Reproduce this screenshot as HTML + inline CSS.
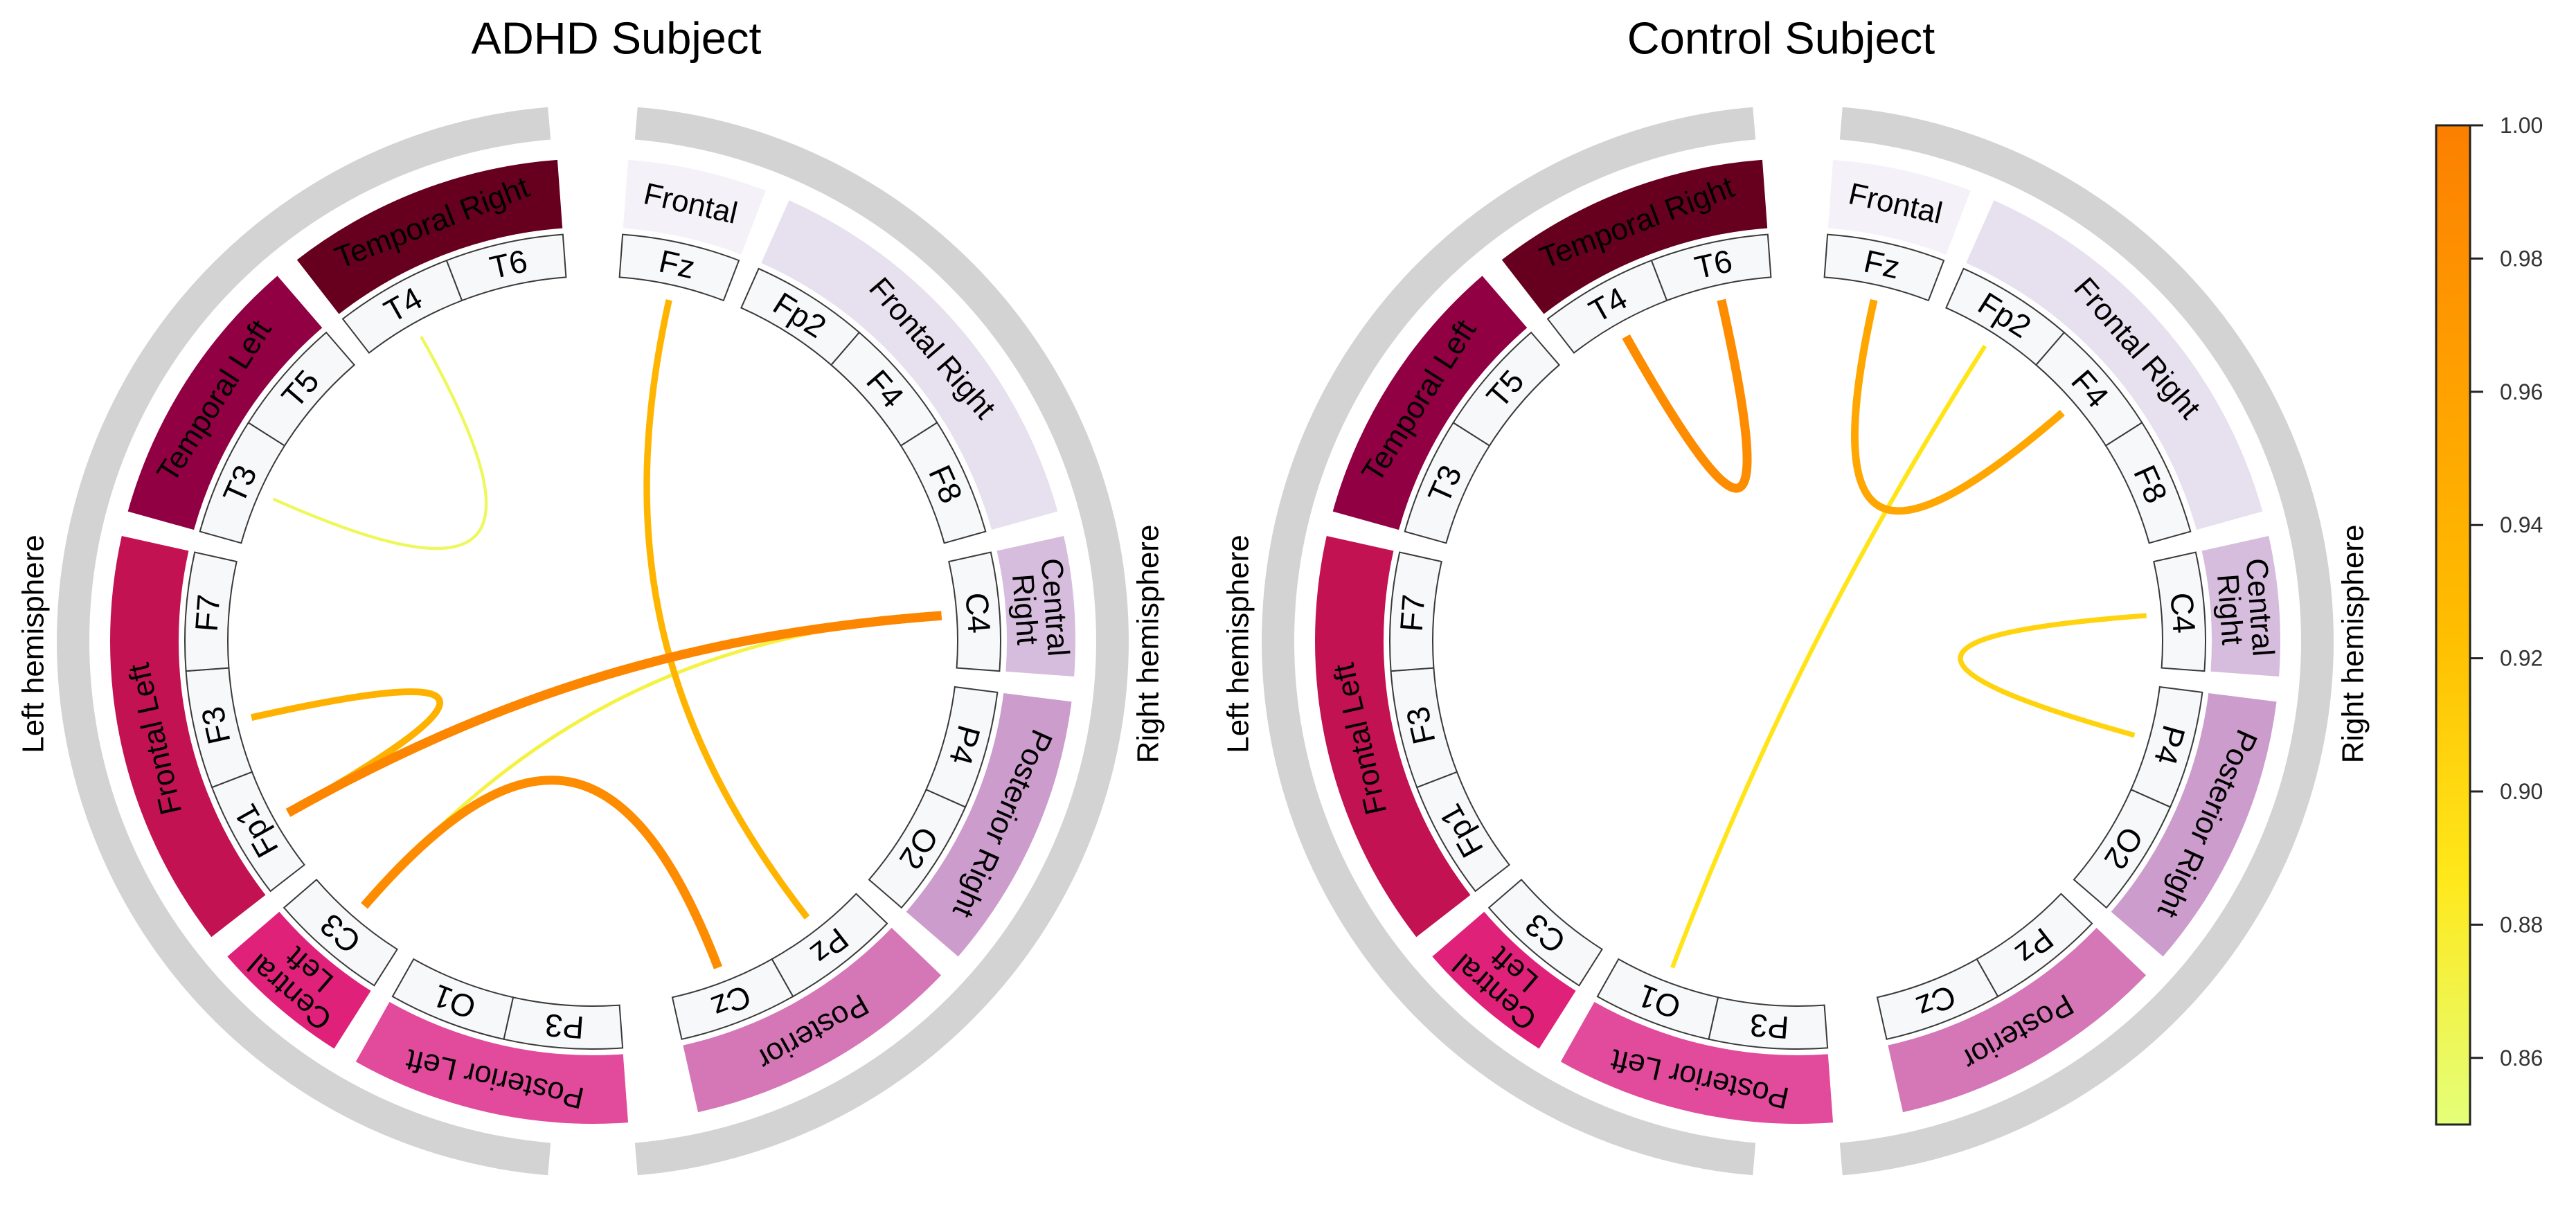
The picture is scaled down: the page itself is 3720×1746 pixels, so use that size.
<!DOCTYPE html>
<html><head><meta charset="utf-8"><title>ADHD vs Control connectivity</title>
<style>
html,body{margin:0;padding:0;background:#fff;}
svg{display:block;font-family:"Liberation Sans","DejaVu Sans",sans-serif;}
</style></head>
<body>
<svg id="chart" width="3720" height="1746" viewBox="0 0 3720 1746" xmlns="http://www.w3.org/2000/svg">
<defs>
<linearGradient id="wistia" x1="0" y1="1" x2="0" y2="0">
<stop offset="0" stop-color="#e4ff7a"/><stop offset="0.25" stop-color="#ffe81a"/><stop offset="0.5" stop-color="#ffbd00"/><stop offset="0.75" stop-color="#ffa000"/><stop offset="1" stop-color="#fc7f00"/>
</linearGradient>
</defs>
<text x="890" y="55" font-size="65" text-anchor="middle" dominant-baseline="central" fill="#000">ADHD Subject</text>
<text x="2572" y="55" font-size="65" text-anchor="middle" dominant-baseline="central" fill="#000">Control Subject</text>
<g id="panels"></g>
<g id="colorbar"></g>
</svg>
<script>
// ---- data ----
const nodeNames = ["Fz","Fp2","F4","F8","C4","P4","O2","Pz","Cz","P3","O1","C3","Fp1","F3","F7","T3","T5","T4","T6"];
const nodeGroup = [0,1,1,1,2,3,3,4,4,5,5,6,7,7,7,8,8,9,9];
const groupNames = ["Frontal","Frontal Right","Central Right","Posterior Right","Posterior","Posterior Left","Central Left","Frontal Left","Temporal Left","Temporal Right"];
const groupColors = ["#f5f1f8","#e7e1ef","#d7bddd","#cc9ccc","#d576b7","#e24a9c","#e0217a","#c21251","#900043","#67001f"];
const adhdSource = ["T4","Fz","C4","C4","F3","C3"];
const adhdTarget = ["T3","Pz","Fp1","C3","Fp1","Cz"];
const adhdValue  = [0.862,0.935,0.992,0.872,0.94,0.985];
const ctrlSource = ["T4","Fz","Fp2","C4"];
const ctrlTarget = ["T6","F4","O1","P4"];
const ctrlValue  = [0.985,0.955,0.89,0.905];
const cbTicks = [0.86,0.88,0.90,0.92,0.94,0.96,0.98,1.00];
const vMin = 0.85, vMax = 1.00;

// ---- layout ----
const NS = "http://www.w3.org/2000/svg";
const STEP = 16.8, GAP = 19.8, BIG = 25.2, START = 12.6;
const R_RING_O = 774, R_RING_I = 727, R_BAR_O = 697, R_BAR_I = 598, R_BOX_O = 589, R_BOX_I = 527, R_END = 505;
function nodeAngles(){
  const a=[START];
  for(let i=1;i<nodeNames.length;i++){
    let d = nodeGroup[i]===nodeGroup[i-1] ? STEP : GAP;
    if(nodeNames[i]==="P3") d = BIG;
    a.push(a[i-1]+d);
  }
  return a;
}
const angles = nodeAngles();
function pt(cx,cy,r,deg){const t=deg*Math.PI/180;return [cx+r*Math.sin(t), cy-r*Math.cos(t)];}
function sector(cx,cy,r0,r1,a0,a1){
  const large = (a1-a0)>180?1:0;
  const p1=pt(cx,cy,r1,a0),p2=pt(cx,cy,r1,a1),p3=pt(cx,cy,r0,a1),p4=pt(cx,cy,r0,a0);
  return `M${p1[0]},${p1[1]} A${r1},${r1} 0 ${large} 1 ${p2[0]},${p2[1]} L${p3[0]},${p3[1]} A${r0},${r0} 0 ${large} 0 ${p4[0]},${p4[1]} Z`;
}
function cmap(v){
  const t=Math.max(0,Math.min(1,(v-vMin)/(vMax-vMin)));
  const st=[[228,255,122],[255,232,26],[255,189,0],[255,160,0],[252,127,0]];
  const f=t*4,i=Math.min(3,Math.floor(f)),u=f-i;
  const c=st[i].map((x,k)=>Math.round(x+(st[i+1][k]-x)*u));
  return `rgb(${c[0]},${c[1]},${c[2]})`;
}
function el(tag,attrs,parent){const e=document.createElementNS(NS,tag);for(const k in attrs)e.setAttribute(k,attrs[k]);parent.appendChild(e);return e;}
function textAt(parent,cx,cy,r,deg,lines,size){
  const p=pt(cx,cy,r,deg);
  const t=el("text",{transform:`translate(${p[0]},${p[1]}) rotate(${deg})`,"font-size":size,"text-anchor":"middle",fill:"#000"},parent);
  const lh=size*0.98, off=-(lines.length-1)*lh/2;
  lines.forEach((s,i)=>{const ts=el("tspan",{x:0,y:off+i*lh,"dominant-baseline":"central"},t);ts.textContent=s;});
  return t;
}
function drawPanel(cx,cy,prefix,src,tgt,val){
  const g=el("g",{},document.getElementById("panels"));
  
  
  // hemisphere rings
  const rr=el("path",{d:sector(cx,cy,R_RING_I,R_RING_O,4.8,175.2),fill:"#d3d3d3"},g);
  
  
  const rl=el("path",{d:sector(cx,cy,R_RING_I,R_RING_O,184.8,355.2),fill:"#d3d3d3"},g);
  
  
  const lh=el("text",{transform:`translate(${cx-808},${cy+4}) rotate(-90)`,"font-size":44,"text-anchor":"middle","dominant-baseline":"central"},g);
  lh.textContent="Left hemisphere";
  
  
  const rh=el("text",{transform:`translate(${cx+802},${cy+4}) rotate(-90)`,"font-size":44,"text-anchor":"middle","dominant-baseline":"central"},g);
  rh.textContent="Right hemisphere";
  
  
  // group bars
  groupNames.forEach((name,gi)=>{
    const idx=nodeGroup.map((x,i)=>x===gi?i:-1).filter(i=>i>=0);
    const a0=angles[idx[0]]-STEP/2, a1=angles[idx[idx.length-1]]+STEP/2;
    const b=el("path",{d:sector(cx,cy,R_BAR_I,R_BAR_O,a0,a1),fill:groupColors[gi]},g);
    const slug=name.toLowerCase().replace(/ /g,'-');
    
    
    const lines = name==="Central Right"?["Central","Right"]:name==="Central Left"?["Central","Left"]:[name];
    const t=textAt(g,cx,cy,(R_BAR_I+R_BAR_O)/2,(a0+a1)/2,lines,44);
    
    
  });
  // node boxes
  nodeNames.forEach((n,i)=>{
    const b=el("path",{d:sector(cx,cy,R_BOX_I,R_BOX_O,angles[i]-STEP/2,angles[i]+STEP/2),fill:"#f7f8fa",stroke:"#3a3a3a","stroke-width":2},g);
    
    
    const t=textAt(g,cx,cy,(R_BOX_I+R_BOX_O)/2,angles[i],[n],46);
    
    
  });
  // chords (sorted so stronger drawn on top)
  const order=val.map((v,i)=>i).sort((a,b)=>val[a]-val[b]);
  order.forEach(i=>{
    const a=angles[nodeNames.indexOf(src[i])], b=angles[nodeNames.indexOf(tgt[i])];
    const p0=pt(cx,cy,R_END,a), p3=pt(cx,cy,R_END,b);
    const k=0.3;
    const p1=[cx+k*(p0[0]-cx),cy+k*(p0[1]-cy)], p2=[cx+k*(p3[0]-cx),cy+k*(p3[1]-cy)];
    const w=3.5+(val[i]-vMin)/(vMax-vMin)*10.5;
    const c=el("path",{d:`M${p0[0]},${p0[1]} C${p1[0]},${p1[1]} ${p2[0]},${p2[1]} ${p3[0]},${p3[1]}`,fill:"none",stroke:cmap(val[i]),"stroke-width":w},g);
    
    
  });
}
drawPanel(856,926,"adhd",adhdSource,adhdTarget,adhdValue);
drawPanel(2596,926,"control",ctrlSource,ctrlTarget,ctrlValue);

// colorbar
(function(){
  const cb=document.getElementById("colorbar");
  const x0=3518,x1=3567,yTop=181,yBot=1624;
  const y=v=>yBot-(v-vMin)/(vMax-vMin)*(yBot-yTop);
  const r=el("rect",{x:x0,y:yTop,width:x1-x0,height:yBot-yTop,fill:"url(#wistia)",stroke:"#222","stroke-width":3},cb);
  
  
  cbTicks.forEach(v=>{
    const ln=el("line",{x1:x1,x2:x1+19,y1:y(v),y2:y(v),stroke:"#222","stroke-width":3},cb);
    
    
    const t=el("text",{x:3610,y:y(v),"font-size":32,fill:"#333","dominant-baseline":"central"},cb);
    t.textContent=v.toFixed(2);
    
    
  });
})();
</script>
</body></html>
